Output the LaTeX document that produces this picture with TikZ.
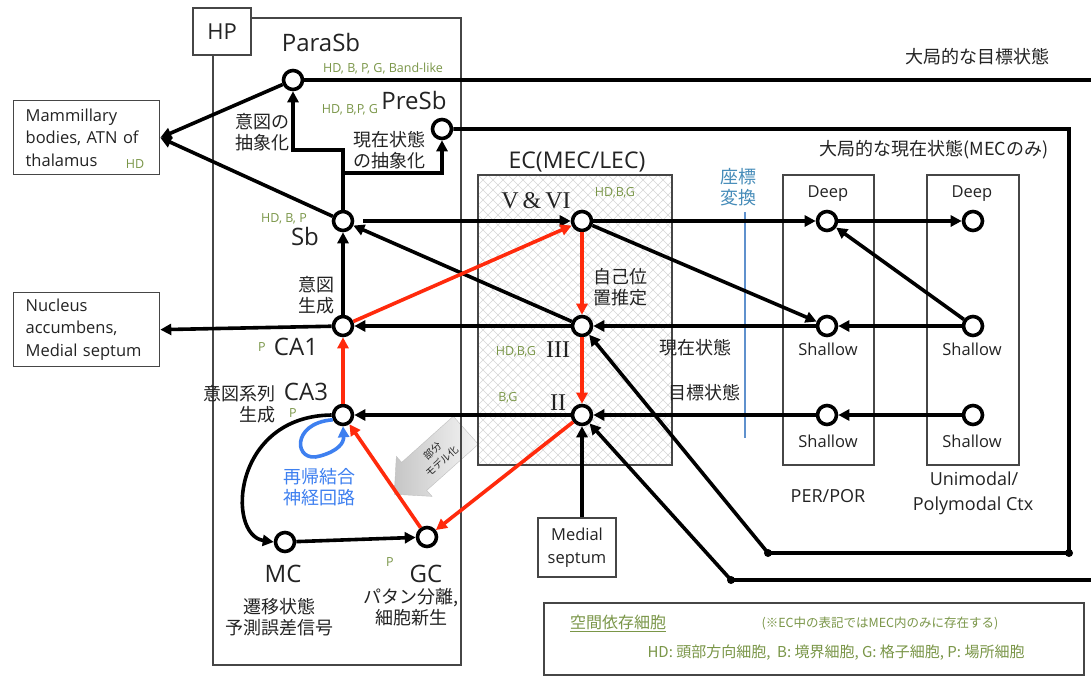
\documentclass[tikz,border=0pt]{standalone}
\usepackage{fontspec}
\setmainfont{Open Sans}
\newfontfamily\jp{Noto Sans CJK JP}
\newfontfamily\rmn{Liberation Serif}
\usetikzlibrary{arrows.meta,shapes.arrows}
\definecolor{grn}{RGB}{122,150,72}
\definecolor{myred}{RGB}{255,42,12}
\definecolor{myblue}{RGB}{62,128,240}
\definecolor{tblue}{RGB}{70,140,185}
\definecolor{lblue}{RGB}{95,145,205}
\definecolor{boxc}{RGB}{70,70,70}
\definecolor{txt}{RGB}{35,35,35}
\begin{document}
\begin{tikzpicture}[x=1pt,y=-1pt,
  cell/.style={circle,draw=black,line width=3.6pt,fill=white,minimum size=19pt,inner sep=0pt},
  con/.style={line width=3.6pt,-{Triangle[length=11pt,width=11pt]}},
  plain/.style={line width=3.6pt},
  redcon/.style={con,draw=myred,fill=myred},
  box/.style={draw=boxc,line width=1.3pt},
  hatch/.style={draw=gray!32,line width=0.55pt},
  big/.style={font=\fontsize{24}{28}\selectfont,text=txt,inner sep=0pt,anchor=base},
  lat/.style={font=\fontsize{16.5}{22.5}\selectfont,text=txt,inner sep=0pt},
  jpl/.style={font=\jp\fontsize{18}{21}\selectfont,text=txt,align=center,inner sep=0pt},
  gl/.style={text=grn,font=\fontsize{12.5}{14}\selectfont,inner sep=0pt},
  rom/.style={font=\rmn\fontsize{24}{26}\selectfont,text=txt,inner sep=0pt},
  dot/.style={circle,fill=black,inner sep=0pt,minimum size=8pt}
]
\useasboundingbox (0,0) rectangle (1091,677);
\fill[white] (0,0) rectangle (1091,677);

% gray block arrow
\node[single arrow, shape border rotate=180, rotate=41.8, draw=gray!50, left color=gray!45, right color=gray!8,
  shading angle=90, minimum height=96pt, single arrow head extend=8pt, inner xsep=3pt, inner ysep=7pt,
  font=\jp\fontsize{10}{14}\selectfont, align=center, text=txt] (pm) at (437,456) {部分\\モデル化};

% HP box
\draw[box] (213,55) -- (213,665) -- (461,665) -- (461,18) -- (251,18);
\node[box, fill=white, minimum width=58pt, minimum height=47pt, inner sep=0pt,
  font=\fontsize{22}{24}\selectfont, text=txt] (hp) at (222,31.5) {HP};

% EC hatch
\begin{scope}
\clip (478,175) rectangle (672,465);
\foreach \i in {0,10,...,490} {
  \draw[hatch] (188+\i,175) -- ++(290,290);
  \draw[hatch] (478+\i,175) -- ++(-290,290);
}
\end{scope}
\draw[box] (478,175) rectangle (672,465);

% PER / Uni boxes
\draw[box] (783,175) rectangle (874,465);
\draw[box] (927,175) rectangle (1019,465);

% coordinate transform line
\draw[lblue, line width=2.2pt] (745,212) -- (745,438);

% left boxes
\node[box, anchor=north west, minimum width=146pt, minimum height=74pt, inner xsep=12pt,
  text width=122pt, align=left, lat] (mam) at (13,100) {Mammillary\\bodies, ATN of\\thalamus};
\node[gl] at (135,164) {HD};
\node[box, anchor=north west, minimum width=146pt, minimum height=74pt, inner xsep=12pt,
  text width=122pt, align=left, lat] (nuc) at (13,292) {Nucleus\\accumbens,\\Medial septum};
\node[box, minimum width=78pt, minimum height=59pt, inner sep=0pt, align=center, lat] (ms) at (577,547.5) {Medial\\septum};

% cells
\node[cell] (para) at (293,80) {};
\node[cell] (pre) at (442,129) {};
\node[cell] (sb) at (343,221) {};
\node[cell] (ca1) at (343,326) {};
\node[cell] (ca3) at (343,415) {};
\node[cell] (mc) at (285,542) {};
\node[cell] (gc) at (427,537) {};
\node[cell] (v) at (582,221) {};
\node[cell] (iii) at (582,326) {};
\node[cell] (ii) at (582,415) {};
\node[cell] (pd) at (827,221) {};
\node[cell] (ps1) at (827,326) {};
\node[cell] (ps2) at (827,415) {};
\node[cell] (ud) at (973,221) {};
\node[cell] (us1) at (973,326) {};
\node[cell] (us2) at (973,415) {};

\node[dot] (d1) at (1069,553) {};
\node[dot] (d2) at (768,553) {};
\node[dot] (d3) at (731,580) {};
\coordinate (c1) at (1069,129);
\coordinate (e1) at (1091,80);
\coordinate (e2) at (1091,580);
\coordinate (j1) at (343,150);
\coordinate (j2) at (343,173);

% black connectors
\draw[con] (sb.north) -- (j1) -| (para.south);
\draw[con] (j2) -| (pre.south);
\draw[con] (para) -- (mam.east);
\draw[con] (sb) -- (mam.east);
\draw[con, shorten <=9pt] (sb) -- (v);
\draw[con] (iii) -- (sb);
\draw[con] (v) -- (pd);
\draw[con] (pd) -- (ud);
\draw[con] (v) -- (ps1);
\draw[con] (us1) -- (pd);
\draw[con] (us1) -- (ps1);
\draw[con] (ps1) -- (iii);
\draw[con] (us2) -- (ps2);
\draw[con] (ps2) -- (ii);
\draw[con] (iii) -- (ca1);
\draw[con] (ii) -- (ca3);
\draw[con] (ca1) -- (nuc.east);
\draw[con] (ca1) -- (sb);
\draw[con] (mc) -- (gc);
\draw[con] (ca3.west) .. controls (232,416) and (226,535) .. (mc.west);
\draw[con] (ms.north -| ii) -- (ii);
\draw[plain] (para) -- (e1);
\draw[con] (pre) -- (c1) -- (d1.center) -- (d2.center) -- (iii);
\draw[con] (e2) -- (d3.center) -- (ii);

% recurrent loop
\draw[line width=3.6pt, myblue, -{Triangle[length=11pt,width=11pt]}]
  (ca3.205) .. controls (290,423) and (294,464) .. (320,456) .. controls (338,451) and (344,443) .. (ca3.south);

% red connectors
\draw[redcon] (v) -- (iii);
\draw[redcon] (iii) -- (ii);
\draw[redcon] (ca3) -- (ca1);
\draw[redcon] (ca1) -- (v);
\draw[redcon] (ii) -- (gc);
\draw[redcon] (gc) -- (ca3);

% big labels
\node[big] at (321,52) {ParaSb};
\node[big] at (414,109) {PreSb};
\node[big] at (305,245) {Sb};
\node[big] at (296,355) {CA1};
\node[big] at (306,400) {CA3};
\node[big] at (283,582) {MC};
\node[big] at (426,582) {GC};
\node[big, font=\fontsize{23}{26}\selectfont] at (577,168) {EC(MEC/LEC)};

\node[rom, anchor=base] at (536,208) {V\,\&\,VI};
\node[rom, anchor=base] at (558,357) {III};
\node[rom, anchor=base] at (558,410) {II};

% Japanese labels
\node[jpl] at (262,132) {意図の\\抽象化};
\node[jpl] at (389,150) {現在状態\\の抽象化};
\node[jpl] at (316,295) {意図\\生成};
\node[jpl, align=right, anchor=east] at (276,404) {意図系列\\生成};
\node[jpl, text=myblue] at (319,487) {再帰結合\\神経回路};
\node[jpl] at (279,617) {遷移状態\\予測誤差信号};
\node[jpl] at (411,607) {パタン分離,\\細胞新生};
\node[jpl, align=left] at (620,287) {自己位\\置推定};
\node[jpl] at (695,348) {現在状態};
\node[jpl] at (704,393) {目標状態};
\node[jpl, text=tblue] at (738,187) {座標\\変換};
\node[jpl] at (977,57) {大局的な目標状態};
\node[jpl] at (934,150) {大局的な現在状態(MECのみ)};

% green cell-type labels
\node[gl] at (383,69) {HD, B, P, G, Band-like};
\node[gl] at (350,110) {HD, B,P, G};
\node[gl] at (284,219) {HD, B, P};
\node[gl] at (615,193) {HD,B,G};
\node[gl] at (516,352) {HD,B,G};
\node[gl] at (508,398) {B,G};
\node[gl] at (262,347) {P};
\node[gl] at (293,413) {P};
\node[gl] at (390,562) {P};

% right side labels
\node[lat, anchor=base] at (828,197) {Deep};
\node[lat, anchor=base] at (972,197) {Deep};
\node[lat, anchor=base] at (828,355) {Shallow};
\node[lat, anchor=base] at (972,355) {Shallow};
\node[lat, anchor=base] at (828,447) {Shallow};
\node[lat, anchor=base] at (972,447) {Shallow};
\node[lat, anchor=base, font=\fontsize{18}{22}\selectfont] at (828,502) {PER/POR};
\node[lat, anchor=base, font=\fontsize{18}{22}\selectfont] at (974,485) {Unimodal/};
\node[lat, anchor=base, font=\fontsize{18}{22}\selectfont] at (973,510) {Polymodal Ctx};

% legend
\draw[box] (544,603) rectangle (1084,675);
\node[text=grn, font=\jp\fontsize{16}{18}\selectfont, inner sep=0pt] at (618,623) {\underline{空間依存細胞}};
\node[text=grn, font=\jp\fontsize{12.5}{14}\selectfont, inner sep=0pt] at (880,623) {(※EC中の表記ではMEC内のみに存在する)};
\node[text=grn, font=\jp\fontsize{15}{17}\selectfont, inner sep=0pt] at (836,653) {HD: 頭部方向細胞,\ \ B: 境界細胞, G: 格子細胞, P: 場所細胞};
\end{tikzpicture}
\end{document}
